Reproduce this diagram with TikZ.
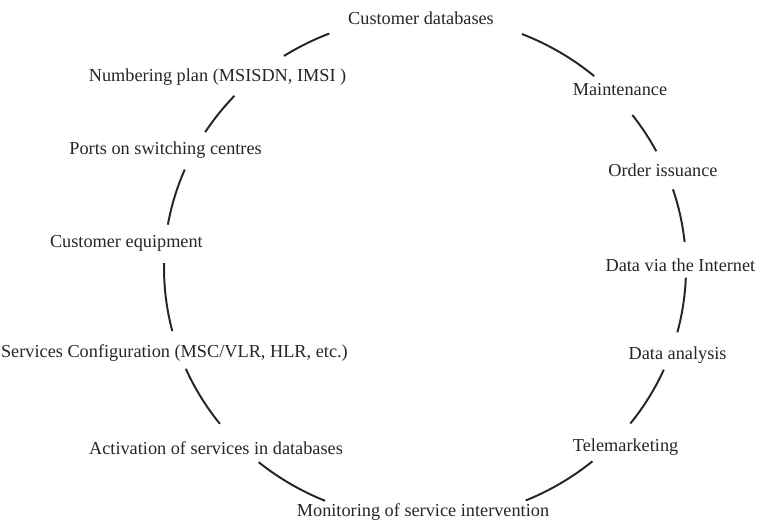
\documentclass[tikz,border=0pt]{standalone}
\usepackage{fontspec}
\setmainfont{Liberation Serif}
\begin{document}
\begin{tikzpicture}[
  step label/.style={text=black!85, font=\fontsize{13}{15}\selectfont, inner sep=1pt},
  ring/.style={line width=1.4pt, black!85, x radius=6.525, y radius=6.3}]
  \useasboundingbox (0,0) rectangle (19.15,13.275);
  \coordinate (hub) at (10.625,6.575);
  % labels round the cycle
  \node[step label] (cdb) at (10.525,12.825) {Customer databases};
  \node[step label] (num) at (5.44,11.35) {Numbering plan (MSISDN, IMSI )};
  \node[step label] (ports) at (4.14,9.525) {Ports on switching centres};
  \node[step label] (equip) at (3.16,7.2) {Customer equipment};
  \node[step label] (config) at (4.36,4.45) {Services Configuration (MSC/VLR, HLR, etc.)};
  \node[step label] (activ) at (5.4,2.075) {Activation of services in databases};
  \node[step label] (monit) at (10.575,0.475) {Monitoring of service intervention};
  \node[step label] (tele) at (15.64,2.1) {Telemarketing};
  \node[step label] (anal) at (16.94,4.4) {Data analysis};
  \node[step label] (inet) at (17.01,6.65) {Data via the Internet};
  \node[step label] (order) at (16.575,9.025) {Order issuance};
  \node[step label] (maint) at (15.5,11.025) {Maintenance};
  % arcs of the ring between the labels
  \draw[ring] (hub) ++(111.5:6.525 and 6.3) arc[start angle=111.5, end angle=122.7];
  \draw[ring] (hub) ++(136.9:6.525 and 6.3) arc[start angle=136.9, end angle=147.4];
  \draw[ring] (hub) ++(157.0:6.525 and 6.3) arc[start angle=157.0, end angle=170.1];
  \draw[ring] (hub) ++(178.9:6.525 and 6.3) arc[start angle=178.9, end angle=194.5];
  \draw[ring] (hub) ++(203.6:6.525 and 6.3) arc[start angle=203.6, end angle=218.2];
  \draw[ring] (hub) ++(230.4:6.525 and 6.3) arc[start angle=230.4, end angle=247.5];
  \draw[ring] (hub) ++(292.7:6.525 and 6.3) arc[start angle=292.7, end angle=309.9];
  \draw[ring] (hub) ++(321.9:6.525 and 6.3) arc[start angle=321.9, end angle=336.2];
  \draw[ring] (hub) ++(345.2:6.525 and 6.3) arc[start angle=345.2, end angle=357.8];
  \draw[ring] (hub) ++(5.9:6.525 and 6.3) arc[start angle=5.9, end angle=18.2];
  \draw[ring] (hub) ++(27.6:6.525 and 6.3) arc[start angle=27.6, end angle=37.4];
  \draw[ring] (hub) ++(49.6:6.525 and 6.3) arc[start angle=49.6, end angle=68.2];
\end{tikzpicture}
\end{document}
